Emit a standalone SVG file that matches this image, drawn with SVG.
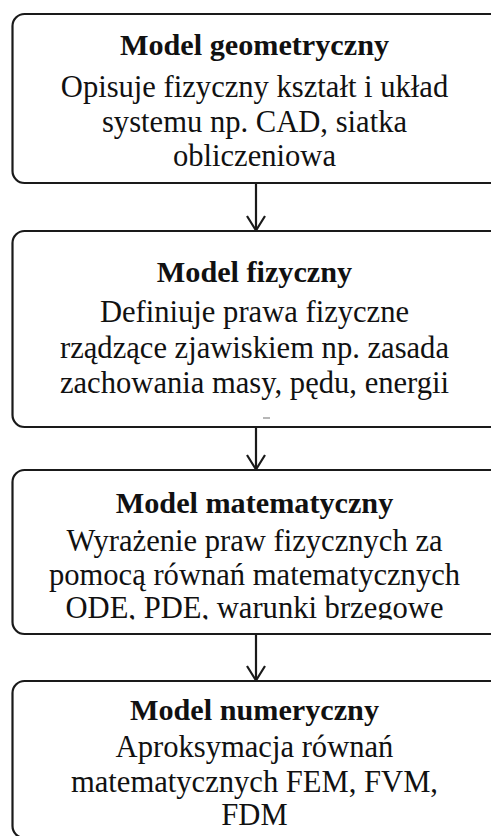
<svg xmlns="http://www.w3.org/2000/svg" width="491" height="836" viewBox="0 0 491 836">
  <style>
    .box { fill: #ffffff; stroke: #1a1a1a; stroke-width: 2.2; }
    .link { fill: none; stroke: #1a1a1a; stroke-width: 2.2; }
    .head { fill: none; stroke: #1a1a1a; stroke-width: 2.2; stroke-linejoin: miter; }
    text { font-family: "Liberation Serif", "Times New Roman", serif; fill: #111111; text-anchor: middle; }
    .title { font-weight: bold; font-size: 30.2px; }
    .body { font-size: 30.6px; }
  </style>
  <defs>
    <!-- the last line of the third box is cut off along its lower edge -->
    <clipPath id="clip-math">
      <rect x="0" y="470" width="491" height="149.5"/>
    </clipPath>
  </defs>
  <rect width="491" height="836" fill="#ffffff"/>

  <!-- connectors -->
  <g id="connectors">
    <line class="link" x1="256" y1="183" x2="256" y2="230"/>
    <polyline class="head" points="247,216 256,230.5 265,216"/>
    <line class="link" x1="256" y1="427" x2="256" y2="469"/>
    <polyline class="head" points="247,455 256,469.5 265,455"/>
    <line class="link" x1="256" y1="634" x2="256" y2="680"/>
    <polyline class="head" points="247,666 256,680.5 265,666"/>
  </g>

  <g id="geometric-model">
    <rect class="box" x="12.5" y="14" width="500" height="169" rx="12"/>
    <text class="title" x="254.5" y="55">Model geometryczny</text>
    <text class="body" x="254.5" y="96.5">Opisuje fizyczny kształt i układ</text>
    <text class="body" x="254.5" y="131.5">systemu np. CAD, siatka</text>
    <text class="body" x="254.5" y="166">obliczeniowa</text>
  </g>

  <g id="physical-model">
    <rect class="box" x="12.5" y="231" width="500" height="196" rx="12"/>
    <text class="title" x="254.5" y="281.5">Model fizyczny</text>
    <text class="body" x="254.5" y="321.5">Definiuje prawa fizyczne</text>
    <text class="body" x="254.5" y="357.5">rządzące zjawiskiem np. zasada</text>
    <text class="body" x="254.5" y="393">zachowania masy, pędu, energii</text>
    <line x1="263" y1="418" x2="270" y2="418" stroke="#888888" stroke-width="1.2"/>
  </g>

  <g id="mathematical-model">
    <rect class="box" x="12.5" y="470" width="500" height="164" rx="12"/>
    <g clip-path="url(#clip-math)">
      <text class="title" x="254.5" y="513">Model matematyczny</text>
      <text class="body" x="254.5" y="551">Wyrażenie praw fizycznych za</text>
      <text class="body" x="254.5" y="584.5">pomocą równań matematycznych</text>
      <text class="body" x="254.5" y="618">ODE, PDE, warunki brzegowe</text>
    </g>
  </g>

  <g id="numerical-model">
    <rect class="box" x="12.5" y="681" width="500" height="157" rx="12"/>
    <text class="title" x="254.5" y="720">Model numeryczny</text>
    <text class="body" x="254.5" y="757">Aproksymacja równań</text>
    <text class="body" x="254.5" y="792">matematycznych FEM, FVM,</text>
    <text class="body" x="254.5" y="825">FDM</text>
  </g>
</svg>
